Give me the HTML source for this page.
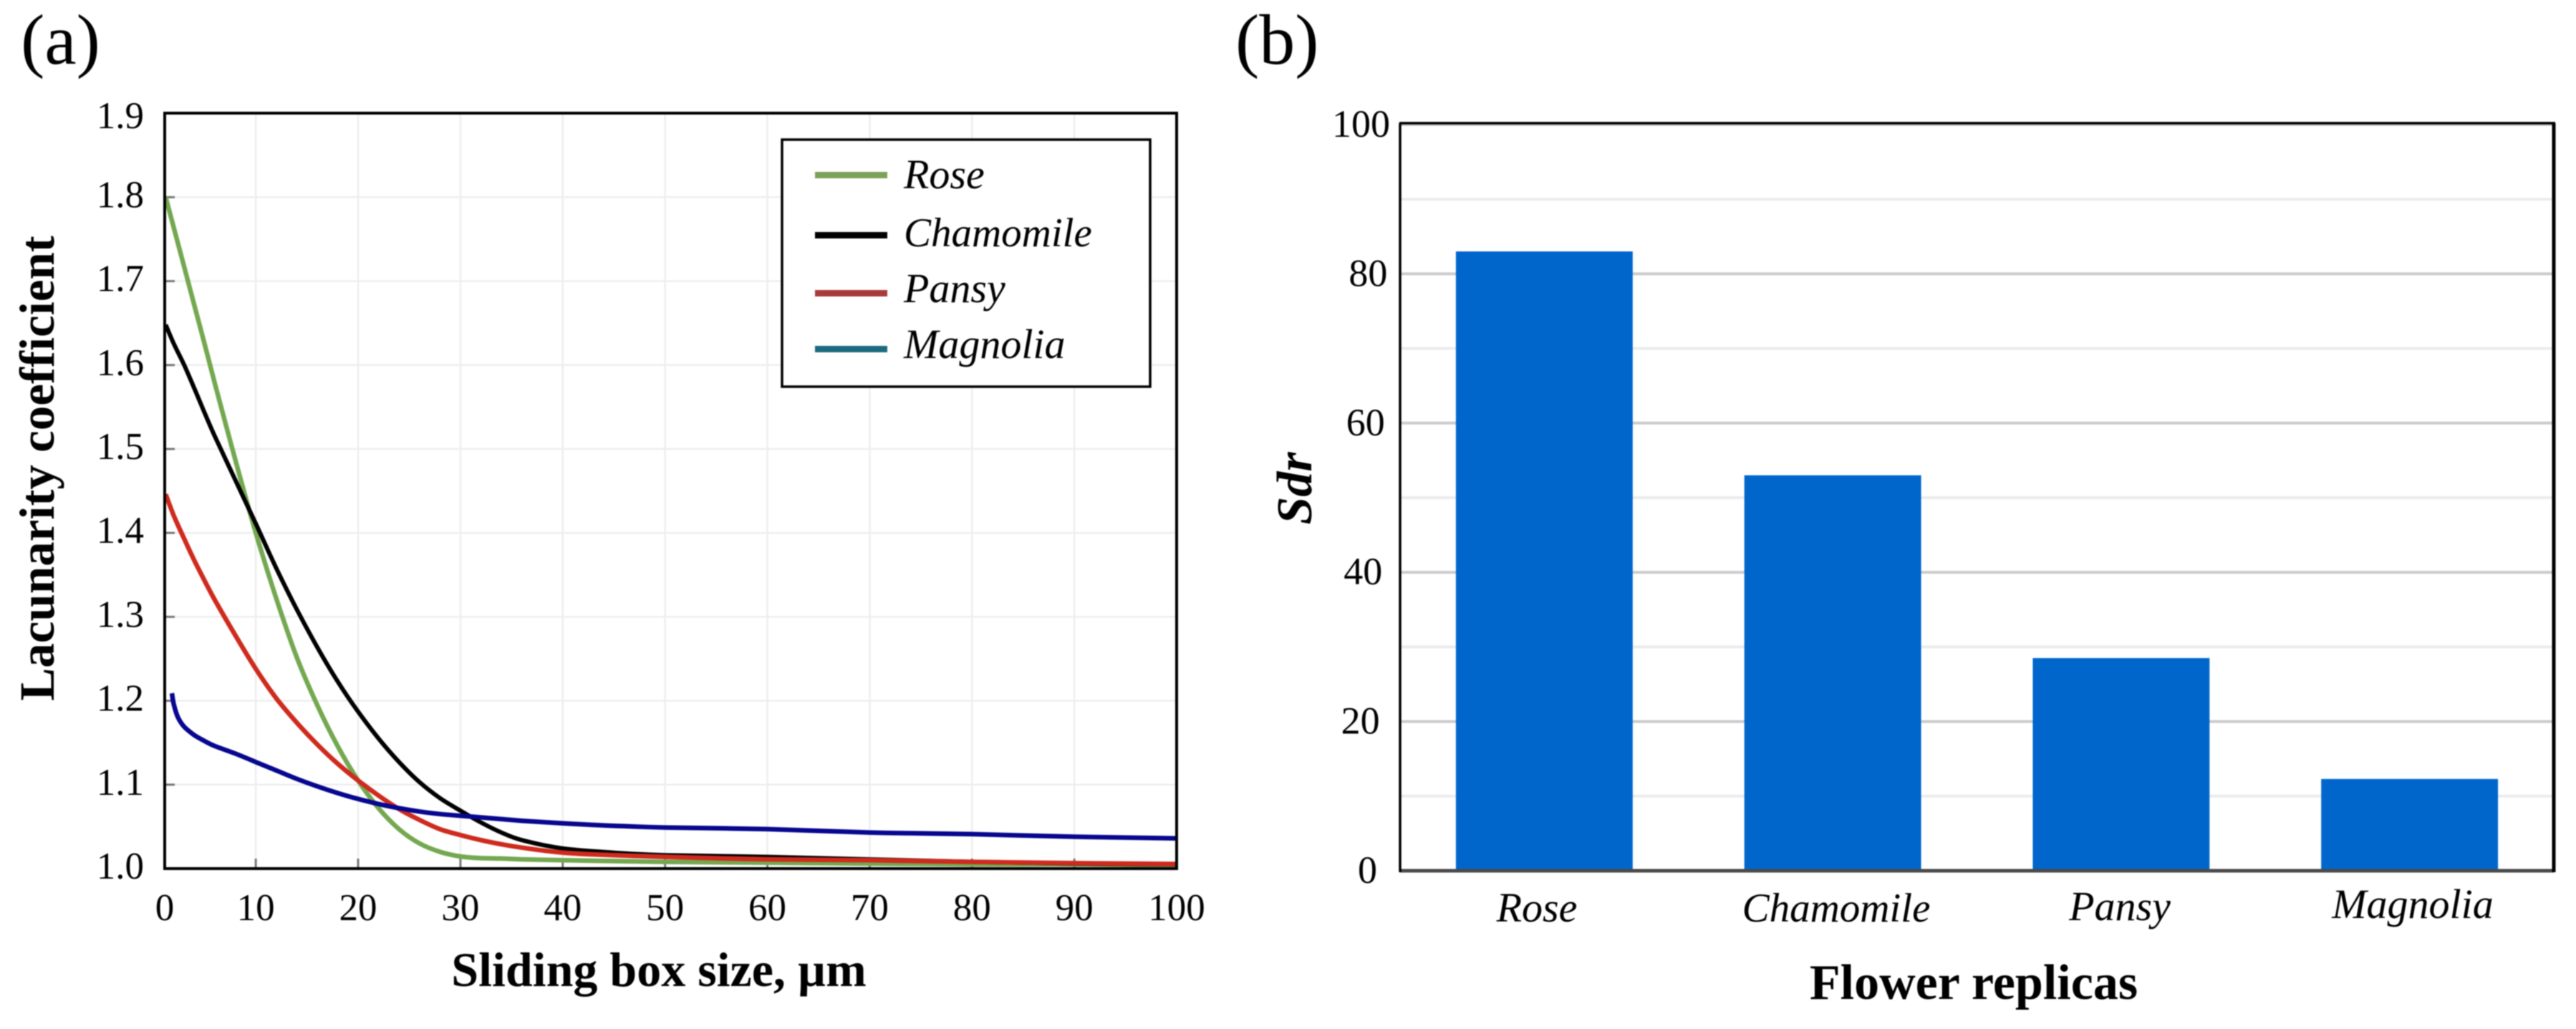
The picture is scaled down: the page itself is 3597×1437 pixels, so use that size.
<!DOCTYPE html>
<html lang="en">
<head>
<meta charset="utf-8">
<title>Lacunarity and Sdr of flower replicas</title>
<style>
html,body{margin:0;padding:0;background:#fff;width:3597px;height:1437px;overflow:hidden}
svg{display:block;filter:blur(0.8px)}
text{font-family:"Liberation Serif",serif;fill:#000}
</style>
</head>
<body>
<svg id="figure" xmlns="http://www.w3.org/2000/svg" width="3597" height="1437" viewBox="0 0 3597 1437">
  <rect x="0" y="0" width="3597" height="1437" fill="#fff"/>

  <text x="29" y="89" font-size="100">(a)</text>
  <text x="1725" y="89" font-size="100">(b)</text>

  <g id="chart-a"></g>
  <g id="legend">
    <rect x="1092" y="195" width="514" height="345" fill="#fff" stroke="#000" stroke-width="3.5"/>
    <g>
      <rect x="1138" y="240" width="101" height="9" fill="#7ca258"/>
      <text x="1262" y="263" font-size="58" font-style="italic">Rose</text>
    </g>
    <g>
      <rect x="1138" y="324" width="101" height="9" fill="#000"/>
      <text x="1262" y="344" font-size="57" font-style="italic">Chamomile</text>
    </g>
    <g>
      <rect x="1138" y="405" width="101" height="9" fill="#a83a3c"/>
      <text x="1262" y="422" font-size="58" font-style="italic">Pansy</text>
    </g>
    <g>
      <rect x="1138" y="483" width="101" height="9" fill="#1a6a80"/>
      <text x="1262" y="500" font-size="58" font-style="italic">Magnolia</text>
    </g>
  </g>
  <text x="920" y="1377" font-size="68" font-weight="bold" text-anchor="middle">Sliding box size, µm</text>
  <text transform="translate(75 654) rotate(-90)" font-size="69" font-weight="bold" text-anchor="middle">Lacunarity coefficient</text>

  <g id="chart-b"></g>
  <text x="2146" y="1287" font-size="58" font-style="italic" text-anchor="middle">Rose</text>
  <text x="2564" y="1287" font-size="57" font-style="italic" text-anchor="middle">Chamomile</text>
  <text x="2960" y="1285" font-size="58" font-style="italic" text-anchor="middle">Pansy</text>
  <text x="3369" y="1282" font-size="58" font-style="italic" text-anchor="middle">Magnolia</text>
  <text x="2756" y="1395" font-size="70" font-weight="bold" text-anchor="middle">Flower replicas</text>
  <text transform="translate(1831 682) rotate(-90)" font-size="70" font-weight="bold" font-style="italic" text-anchor="middle">Sdr</text>
</svg>

<script>
// ---- Panel (a) data ----
const boxSizes = [1.2,2,3,4,5,6,8,10,12,14,16,18,20,22,24,26,28,30,32,34,36,40,45,50,60,70,80,90,100];
const roseValues = [1.80,1.763,1.717,1.671,1.625,1.578,1.487,1.400,1.322,1.252,1.195,1.146,1.105,1.072,1.047,1.03,1.02,1.0145,1.0125,1.012,1.011,1.010,1.009,1.008,1.007,1.006,1.005,1.005,1.004];
const chamomileValues = [1.648,1.625,1.600,1.572,1.543,1.515,1.463,1.411,1.358,1.309,1.264,1.223,1.187,1.155,1.127,1.103,1.084,1.069,1.055,1.043,1.034,1.024,1.019,1.016,1.014,1.011,1.008,1.006,1.005];
const pansyValues = [1.446,1.420,1.393,1.367,1.343,1.32,1.278,1.238,1.203,1.174,1.148,1.125,1.105,1.087,1.071,1.058,1.047,1.04,1.034,1.029,1.025,1.019,1.016,1.014,1.011,1.010,1.008,1.0065,1.0055];
const magnoliaSizes = [1.8,2,2.4,3,4,5,6,8,10,12,14,16,18,20,22,24,26,28,30,32,34,36,40,45,50,60,70,80,90,100];
const magnoliaValues = [1.209,1.195,1.18,1.169,1.159,1.152,1.146,1.137,1.127,1.117,1.107,1.098,1.090,1.083,1.077,1.072,1.068,1.065,1.063,1.061,1.059,1.057,1.054,1.051,1.049,1.047,1.043,1.041,1.038,1.036];
const lacunarityTicks = ["1.0","1.1","1.2","1.3","1.4","1.5","1.6","1.7","1.8","1.9"];
const boxSizeTicks = [0,10,20,30,40,50,60,70,80,90,100];

// ---- Panel (b) data ----
const flowerCategories = ["Rose","Chamomile","Pansy","Magnolia"];
const sdrValues = [83,53,28.5,12.3];
const sdrMajorTicks = [0,20,40,60,80,100];
const sdrMinorTicks = [10,30,50,70,90];

const NS = 'http://www.w3.org/2000/svg';
function make(parent, tag, attrs, content) {
  const node = document.createElementNS(NS, tag);
  for (const k in attrs) node.setAttribute(k, attrs[k]);
  if (content !== undefined) node.textContent = content;
  parent.appendChild(node);
  return node;
}

// ---- Panel (a) axes ----
const a = document.getElementById('chart-a');
const aLeft = 230, aRight = 1643, aTop = 158, aBottom = 1213;
const xA = v => 214.3 + 14.287 * v;
const yA = v => aBottom - (v - 1) * 1172;

lacunarityTicks.forEach(t => {
  const v = parseFloat(t);
  if (v > 1 && v < 1.9) {
    const grid = make(a, 'line', {x1: aLeft, x2: aRight, y1: yA(v), y2: yA(v), stroke: '#eeeeee', 'stroke-width': 2.5});
    
    
    const tick = make(a, 'line', {x1: aLeft, x2: aLeft + 14, y1: yA(v), y2: yA(v), stroke: '#777', 'stroke-width': 3});
    
    
  }
  const label = make(a, 'text', {x: 201, y: yA(v) + (v === 1.9 ? 21 : 14), 'font-size': 53, 'text-anchor': 'end'}, t);
  
  
});

boxSizeTicks.forEach(v => {
  const px = Math.max(xA(v), aLeft);
  if (v > 0 && v < 100) {
    const grid = make(a, 'line', {x1: px, x2: px, y1: aTop, y2: aBottom, stroke: '#eeeeee', 'stroke-width': 2.5});
    
    
    const tick = make(a, 'line', {x1: px, x2: px, y1: aBottom - 14, y2: aBottom, stroke: '#777', 'stroke-width': 3});
    
    
  }
  const label = make(a, 'text', {x: px, y: 1285, 'font-size': 53, 'text-anchor': 'middle'}, String(v));
  
  
});

// ---- Panel (a) curves ----
function smoothPath(xs, ys) {
  const pts = xs.map((x, i) => [xA(x), yA(ys[i])]);
  let d = 'M' + pts[0][0].toFixed(1) + ' ' + pts[0][1].toFixed(1);
  for (let i = 0; i < pts.length - 1; i++) {
    const p0 = pts[Math.max(i - 1, 0)], p1 = pts[i], p2 = pts[i + 1], p3 = pts[Math.min(i + 2, pts.length - 1)];
    const c1 = [p1[0] + (p2[0] - p0[0]) / 6, p1[1] + (p2[1] - p0[1]) / 6];
    const c2 = [p2[0] - (p3[0] - p1[0]) / 6, p2[1] - (p3[1] - p1[1]) / 6];
    d += 'C' + c1[0].toFixed(1) + ' ' + c1[1].toFixed(1) + ' ' + c2[0].toFixed(1) + ' ' + c2[1].toFixed(1) + ' ' + p2[0].toFixed(1) + ' ' + p2[1].toFixed(1);
  }
  return d;
}
const roseLine = make(a, 'path', {d: smoothPath(boxSizes, roseValues), fill: 'none', stroke: '#74a850', 'stroke-width': 6.5, 'stroke-linejoin': 'round'});


const chamomileLine = make(a, 'path', {d: smoothPath(boxSizes, chamomileValues), fill: 'none', stroke: '#000', 'stroke-width': 6, 'stroke-linejoin': 'round'});


const pansyLine = make(a, 'path', {d: smoothPath(boxSizes, pansyValues), fill: 'none', stroke: '#cf2a1e', 'stroke-width': 6.5, 'stroke-linejoin': 'round'});


const magnoliaLine = make(a, 'path', {d: smoothPath(magnoliaSizes, magnoliaValues), fill: 'none', stroke: '#06068f', 'stroke-width': 6.5, 'stroke-linejoin': 'round'});



const frameA = make(a, 'rect', {x: aLeft, y: aTop, width: aRight - aLeft, height: aBottom - aTop, fill: 'none', stroke: '#000', 'stroke-width': 4});



// ---- Panel (b) axes and bars ----
const b = document.getElementById('chart-b');
const bLeft = 1955, bRight = 3566, bTop = 172, bBottom = 1216;
const yB = v => bBottom - v * 10.42;
const bandWidth = (bRight - bLeft) / flowerCategories.length;
const barWidth = bandWidth * 0.613;

sdrMinorTicks.forEach(v => {
  const grid = make(b, 'line', {x1: bLeft, x2: bRight, y1: yB(v), y2: yB(v), stroke: '#ececec', 'stroke-width': 4});
  
  
});
sdrMajorTicks.forEach(v => {
  if (v > 0) {
    const grid = make(b, 'line', {x1: bLeft, x2: bRight, y1: yB(v), y2: yB(v), stroke: '#cbcbcb', 'stroke-width': 4});
    
    
  }
  const label = make(b, 'text', {x: 1923 + v * 0.18, y: yB(v) + 17, 'font-size': 54, 'text-anchor': 'end'}, String(v));
  
  
});
flowerCategories.forEach((cat, i) => {
  const cx = bLeft + bandWidth * (i + 0.5);
  const bar = make(b, 'rect', {x: cx - barWidth / 2, y: yB(sdrValues[i]), width: barWidth, height: bBottom - yB(sdrValues[i]), fill: '#0066cc'});
  
  
});
const baseB = make(b, 'line', {x1: bLeft, x2: bRight, y1: bBottom, y2: bBottom, stroke: '#4a4a4a', 'stroke-width': 5});


const topB = make(b, 'line', {x1: bLeft - 1, x2: bRight + 2, y1: bTop, y2: bTop, stroke: '#000', 'stroke-width': 3.5});


const leftB = make(b, 'line', {x1: bLeft, x2: bLeft, y1: bTop, y2: bBottom + 2, stroke: '#000', 'stroke-width': 3.5});


const rightB = make(b, 'line', {x1: bRight, x2: bRight, y1: bTop, y2: bBottom + 2, stroke: '#000', 'stroke-width': 5});


</script>
</body>
</html>
